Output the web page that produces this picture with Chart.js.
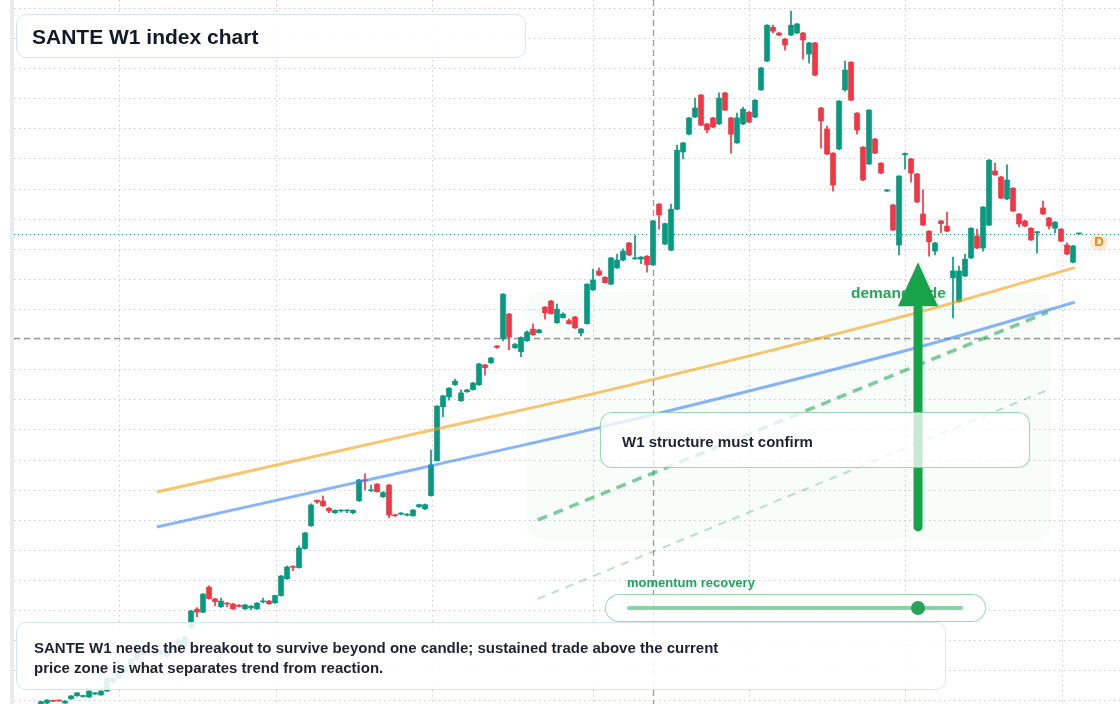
<!DOCTYPE html>
<html>
<head>
<meta charset="utf-8">
<title>SANTE W1 index chart</title>
<script src="https://cdn.jsdelivr.net/npm/chart.js@4.4.1/dist/chart.umd.min.js"></script>
<style>
  html, body { margin: 0; padding: 0; background: #fff; }
  #wrap { position: relative; width: 1120px; height: 704px; overflow: hidden;
          font-family: "Liberation Sans", Arial, Helvetica, sans-serif; }
  #chart { position: absolute; left: 0; top: 0; }
  .box { position: absolute; box-sizing: border-box; }
  .txt { position: absolute; white-space: nowrap; font-weight: bold; }
  #titleBox { left: 16px; top: 14px; width: 510px; height: 44px; border: 1.5px solid #d6e4f7;
              border-radius: 10px; background: rgba(255,255,255,0.94); }
  #titleTxt { left: 32px; top: 15.5px; font-size: 21px; line-height: 41px; color: #111a2b; }
  #noteBox { left: 16px; top: 622px; width: 930px; height: 68px; border: 1.5px solid #d6e4f7;
             border-radius: 10px; background: rgba(255,255,255,0.88); }
  #noteTxt { left: 34px; top: 638px; font-size: 15px; line-height: 20px; color: #1a2233; }
  #w1Box { left: 600px; top: 412px; width: 430px; height: 56px; border: 1.5px solid rgba(22,163,74,0.42);
           border-radius: 12px; background: rgba(255,255,255,0.76); }
  #w1Txt { left: 622px; top: 432px; font-size: 15px; line-height: 20px; color: #1a2233; }
  #momTxt { left: 627px; top: 575px; font-size: 13px; line-height: 16px; color: #22a35a; }
  #momBox { left: 605px; top: 594px; width: 381px; height: 28px; border: 1.5px solid rgba(22,163,74,0.42);
            border-radius: 14px; background: rgba(255,255,255,0.8); }
  #momTrack { left: 627px; top: 606px; width: 336px; height: 3.5px; background: rgba(22,163,74,0.5); border-radius: 2px; }
  #momDot { left: 911px; top: 601px; width: 14px; height: 14px; border-radius: 50%; background: #26a45a; }
</style>
</head>
<body>
<div id="wrap">
  <canvas id="chart" width="1120" height="704"></canvas>
  <div class="box" id="titleBox"></div>
  <div class="txt" id="titleTxt">SANTE W1 index chart</div>
  <div class="box" id="w1Box"></div>
  <div class="txt" id="w1Txt">W1 structure must confirm</div>
  <div class="txt" id="momTxt">momentum recovery</div>
  <div class="box" id="momBox"></div>
  <div class="box" id="momTrack"></div>
  <div class="box" id="momDot"></div>
  <div class="box" id="noteBox"></div>
  <div class="txt" id="noteTxt">SANTE W1 needs the breakout to survive beyond one candle; sustained trade above the current<br>price zone is what separates trend from reaction.</div>
</div>
<script>
// weekly candles, index 0..173
const opens = [
  38.8, 39.3, 40.2, 40.2, 39.3, 40.7, 41.7, 41.5, 41.3, 42.3, 42.0, 43.3, 46.3, 47.6, 49.6, 52.3, 53.9, 55.3, 57.3, 56.6,
  55.6, 54.9, 57.3, 58.3, 57.9, 64.2, 70.5, 69.5, 77.8, 73.9, 71.3, 72.5, 72.2, 71.8, 70.6, 70.9, 70.6, 72.9, 73.2, 72.6,
  75.0, 80.6, 84.7, 84.3, 90.6, 98.2, 106.6, 106.4, 104.0, 102.5, 103.1, 103.1, 102.5, 106.5, 113.4, 109.8, 112.0, 107.8, 111.7, 101.8,
  102.0, 101.7, 101.5, 104.5, 103.8, 108.2, 119.8, 137.7, 141.0, 145.0, 139.7, 142.7, 143.4, 145.0, 151.6, 152.3, 157.9, 160.3, 168.5, 157.3,
  156.0, 159.6, 163.5, 162.3, 170.8, 172.8, 165.6, 167.3, 166.3, 167.5, 162.2, 165.3, 176.5, 182.8, 180.7, 178.4, 183.8, 186.4, 192.1, 186.8,
  186.7, 187.7, 184.8, 205.0, 191.7, 189.7, 203.3, 222.3, 228.2, 233.9, 241.2, 231.6, 233.6, 231.6, 241.9, 233.6, 225.3, 231.6, 235.5, 233.9,
  242.9, 252.5, 263.7, 261.8, 259.8, 261.1, 261.8, 261.8, 254.8, 258.5, 236.9, 229.9, 221.9, 223.3, 242.9, 252.1, 235.2, 223.9, 218.3, 226.6,
  218.6, 209.3, 204.7, 191.4, 221.4, 220.0, 215.0, 201.7, 196.0, 189.4, 199.4, 197.7, 180.5, 172.6, 181.1, 187.1, 194.4, 190.4, 198.0, 216.0,
  214.0, 206.7, 210.3, 201.7, 199.4, 197.0, 195.5, 203.7, 200.4, 197.0, 196.7, 191.4, 185.7, 195.1
];
const highs = [
  40.0, 40.5, 40.3, 40.3, 40.1, 41.8, 42.8, 41.9, 43.4, 42.8, 43.4, 47.8, 48.0, 50.2, 51.2, 54.1, 56.2, 57.1, 57.6, 56.9,
  57.1, 57.9, 58.9, 60.6, 61.5, 70.1, 71.0, 75.7, 78.2, 74.1, 74.2, 72.7, 72.4, 72.0, 72.1, 71.7, 72.7, 74.2, 73.4, 75.2,
  81.7, 84.8, 84.9, 91.5, 96.0, 105.5, 106.8, 108.0, 104.2, 103.5, 103.5, 103.5, 103.5, 113.6, 115.4, 111.7, 112.2, 109.5, 111.9, 102.0,
  102.6, 102.2, 103.6, 105.4, 105.4, 123.3, 138.1, 141.5, 144.1, 146.9, 143.3, 143.5, 145.8, 152.1, 151.8, 154.1, 158.0, 175.3, 168.7, 158.8,
  160.9, 162.9, 165.2, 163.4, 171.0, 173.0, 171.8, 168.9, 166.9, 167.7, 163.7, 178.6, 183.4, 183.8, 180.9, 187.3, 188.4, 190.1, 192.3, 194.5,
  187.6, 187.9, 199.6, 205.2, 198.7, 205.0, 224.6, 225.5, 233.8, 240.2, 241.4, 231.8, 233.8, 241.9, 242.1, 233.8, 235.2, 237.2, 235.7, 239.7,
  250.4, 264.6, 264.4, 262.1, 260.0, 269.1, 265.0, 262.0, 258.7, 258.7, 237.1, 230.9, 222.1, 239.4, 252.5, 252.3, 235.4, 224.1, 236.4, 226.8,
  218.8, 209.8, 204.9, 214.5, 222.0, 220.2, 215.2, 209.7, 196.2, 192.3, 199.6, 202.3, 187.4, 184.4, 188.4, 197.2, 196.7, 204.2, 219.8, 218.6,
  214.2, 218.0, 210.5, 201.9, 199.6, 197.2, 195.9, 206.0, 200.6, 199.2, 196.9, 192.1, 191.3, 195.3
];
const lows = [
  38.5, 39.1, 39.8, 39.9, 39.2, 40.6, 41.6, 41.3, 41.2, 42.2, 41.9, 43.2, 46.0, 47.4, 49.4, 52.1, 53.7, 55.1, 56.0, 55.6,
  55.4, 54.7, 57.0, 58.0, 57.7, 64.0, 68.0, 69.3, 73.8, 71.6, 71.1, 71.3, 70.4, 71.2, 70.4, 70.3, 70.4, 72.6, 72.1, 72.4,
  74.8, 80.4, 83.3, 84.1, 90.4, 98.0, 105.6, 104.6, 102.5, 102.3, 102.7, 102.5, 102.1, 106.3, 110.1, 109.6, 109.3, 107.6, 100.9, 101.3,
  101.8, 101.5, 101.3, 104.3, 103.5, 108.0, 119.6, 134.4, 139.9, 144.8, 139.5, 142.5, 143.2, 144.8, 148.2, 152.1, 157.1, 159.6, 156.6, 157.1,
  154.3, 159.4, 161.4, 162.1, 166.8, 168.4, 165.4, 167.1, 165.1, 163.7, 161.2, 165.1, 176.3, 181.2, 178.7, 178.2, 183.6, 186.2, 187.9, 186.6,
  185.2, 182.4, 184.6, 196.7, 191.5, 189.5, 203.1, 220.0, 228.0, 233.7, 231.0, 228.6, 230.4, 231.4, 236.0, 221.9, 225.1, 231.4, 232.0, 233.7,
  242.7, 252.3, 261.8, 260.9, 256.1, 260.9, 261.6, 253.1, 251.8, 247.6, 223.6, 221.4, 209.3, 223.1, 242.5, 239.3, 228.2, 212.8, 218.1, 221.7,
  215.1, 209.2, 196.2, 188.1, 216.6, 212.3, 205.5, 197.8, 187.7, 188.1, 195.4, 195.8, 167.2, 172.4, 180.9, 186.9, 190.2, 189.4, 197.8, 214.5,
  206.8, 206.5, 202.5, 197.4, 197.5, 192.9, 188.7, 201.5, 196.7, 195.4, 192.5, 188.2, 185.5, 195.0
];
const closes = [
  39.8, 40.3, 39.9, 40.0, 40.0, 41.7, 42.7, 41.8, 43.3, 42.7, 43.3, 47.6, 47.6, 50.0, 51.0, 53.9, 55.9, 56.9, 56.3, 55.9,
  56.9, 57.6, 58.6, 60.3, 61.2, 69.9, 69.5, 75.5, 74.0, 73.0, 73.2, 72.2, 70.6, 71.4, 71.9, 71.5, 72.5, 73.1, 72.3, 75.0,
  81.5, 84.5, 84.4, 90.8, 95.8, 105.1, 106.1, 104.8, 103.1, 103.3, 103.3, 103.3, 103.3, 113.4, 113.1, 110.1, 109.5, 109.2, 101.7, 101.5,
  102.4, 101.9, 103.4, 105.2, 105.2, 118.4, 137.9, 141.3, 143.9, 146.2, 142.3, 143.3, 145.6, 151.9, 150.7, 153.9, 157.4, 175.1, 160.8, 158.4,
  160.7, 162.5, 161.6, 163.2, 168.9, 168.6, 170.1, 168.5, 165.3, 163.9, 163.5, 178.4, 179.8, 181.4, 178.9, 187.1, 186.4, 189.4, 188.1, 187.1,
  187.4, 184.9, 199.4, 201.4, 198.5, 203.3, 222.9, 225.3, 233.6, 236.9, 231.2, 229.6, 230.6, 240.2, 236.2, 228.2, 233.6, 236.5, 232.2, 239.5,
  250.2, 264.4, 262.4, 261.1, 257.8, 264.4, 264.8, 259.5, 258.5, 247.8, 232.6, 221.6, 211.3, 239.2, 249.5, 239.5, 229.6, 213.0, 236.2, 221.9,
  215.3, 209.7, 196.4, 214.3, 221.8, 215.3, 205.7, 198.0, 192.5, 192.1, 198.5, 196.0, 182.8, 182.8, 186.7, 197.0, 190.4, 204.0, 219.6, 214.7,
  207.0, 213.0, 202.7, 198.4, 197.7, 193.1, 195.7, 201.7, 197.7, 199.0, 192.7, 188.4, 191.1, 195.2
];

// grid positions (candle index units / price)
const xGridWeeks = [13, 39.2, 65.2, 92, 118, 144, 170.2];
const yGridLevels = [40, 50, 60, 70, 80, 90, 100, 110, 120, 130, 140, 150, 160, 170, 180, 190, 200, 210, 220, 230, 240, 250, 260, 270];

// guide lines
const upperBandX = [19.3, 63.2, 94.8, 146.5, 172.3];
const upperBandY = [109.4, 129.1, 143.3, 169.2, 183.9];
const lowerBandX = [19.3, 63.2, 94.8, 146.5, 172.3];
const lowerBandY = [97.8, 117.3, 131.6, 157.6, 172.4];
const supportX = [82.8, 167.8];
const supportY = [100.1, 169.1];
const outerSupportX = [82.8, 167.8];
const outerSupportY = [73.9, 143.3];

const lastPrice = 195.2;
const crosshair = { x: 102, y: 160.5 };
const zone = { x0: 81, x1: 168.3, y0: 93.8, y1: 175.8 };
const arrow = { x: 146.17, bottom: 97.8, headBase: 171.1, tip: 185.7 };
const demandLabel = { x: 135, y: 173.8, text: 'demand side' };

const UP = '#089981';
const DOWN = '#f23645';

const idx = opens.map((_, i) => i);
const wickData = idx.map(i => ({ x: i, y: [lows[i], highs[i]] }));
const bodyData = idx.map(i => ({ x: i, y: [opens[i], closes[i]] }));
const candleColors = idx.map(i => closes[i] >= opens[i] ? UP : DOWN);
const toPts = (xs, ys) => xs.map((x, i) => ({ x: x, y: ys[i] }));

const overlay = {
  id: 'overlay',
  beforeDatasetsDraw(chart) {
    const { ctx, chartArea: a, scales: { x, y } } = chart;
    ctx.save();
    // demand zone
    ctx.fillStyle = 'rgba(34,197,94,0.03)';
    ctx.beginPath();
    ctx.roundRect(x.getPixelForValue(zone.x0), y.getPixelForValue(zone.y1),
      x.getPixelForValue(zone.x1) - x.getPixelForValue(zone.x0),
      y.getPixelForValue(zone.y0) - y.getPixelForValue(zone.y1), 12);
    ctx.fill();
    // crosshair
    ctx.strokeStyle = '#9a9a9a';
    ctx.lineWidth = 1.3;
    ctx.setLineDash([6, 4]);
    const cx = Math.round(x.getPixelForValue(crosshair.x)) + 0.5;
    const cy = Math.round(y.getPixelForValue(crosshair.y)) + 0.5;
    ctx.beginPath();
    ctx.moveTo(cx, a.top); ctx.lineTo(cx, a.bottom);
    ctx.moveTo(a.left, cy); ctx.lineTo(a.right, cy);
    ctx.stroke();
    // last price line
    ctx.strokeStyle = '#0b8f76';
    ctx.lineWidth = 1;
    ctx.setLineDash([1, 3]);
    const py = Math.round(y.getPixelForValue(lastPrice)) + 0.5;
    ctx.beginPath();
    ctx.moveTo(a.left, py); ctx.lineTo(a.right, py);
    ctx.stroke();
    ctx.restore();
  },
  afterDatasetsDraw(chart) {
    const { ctx, scales: { x, y } } = chart;
    ctx.save();
    ctx.fillStyle = '#2aa55c';
    ctx.font = 'bold 15.5px "Liberation Sans", Arial, sans-serif';
    ctx.fillText(demandLabel.text, x.getPixelForValue(demandLabel.x), y.getPixelForValue(demandLabel.y));
    // arrow
    const ax = x.getPixelForValue(arrow.x);
    const yb = y.getPixelForValue(arrow.bottom);
    const yh = y.getPixelForValue(arrow.headBase);
    const yt = y.getPixelForValue(arrow.tip);
    ctx.strokeStyle = '#17a34a';
    ctx.fillStyle = '#17a34a';
    ctx.lineWidth = 9;
    ctx.lineCap = 'round';
    ctx.beginPath();
    ctx.moveTo(ax, yb); ctx.lineTo(ax, yh + 2);
    ctx.stroke();
    ctx.beginPath();
    ctx.moveTo(ax - 20, yh); ctx.lineTo(ax + 20, yh); ctx.lineTo(ax, yt);
    ctx.closePath();
    ctx.fill();
    // D badge
    const by = y.getPixelForValue(lastPrice) + 8.5;
    ctx.fillStyle = 'rgba(251,146,60,0.2)';
    ctx.beginPath();
    ctx.arc(1099, by, 9, 0, Math.PI * 2);
    ctx.fill();
    ctx.fillStyle = '#f08a00';
    ctx.font = 'bold 13px "Liberation Sans", Arial, sans-serif';
    ctx.textAlign = 'center';
    ctx.textBaseline = 'middle';
    ctx.fillText('D', 1099, by + 0.5);
    ctx.restore();
  },
  afterDraw(chart) {
    const { ctx } = chart;
    ctx.save();
    ctx.fillStyle = '#ebebeb';
    ctx.fillRect(10, 0, 4, chart.height);
    ctx.restore();
  }
};

new Chart(document.getElementById('chart'), {
  type: 'bar',
  data: {
    datasets: [
      { type: 'bar', data: wickData, backgroundColor: candleColors, barThickness: 1, grouped: false, order: 3 },
      { type: 'bar', data: bodyData, backgroundColor: candleColors, barThickness: 5, minBarLength: 1, grouped: false, order: 2 },
      { type: 'line', data: toPts(upperBandX, upperBandY), borderColor: 'rgba(245,158,11,0.6)', borderWidth: 3,
        pointRadius: 0, cubicInterpolationMode: 'monotone', order: 1 },
      { type: 'line', data: toPts(lowerBandX, lowerBandY), borderColor: 'rgba(59,130,246,0.6)', borderWidth: 3,
        pointRadius: 0, cubicInterpolationMode: 'monotone', order: 1 },
      { type: 'line', data: toPts(supportX, supportY), borderColor: 'rgba(22,163,74,0.55)', borderWidth: 3.5,
        borderDash: [10, 7], pointRadius: 0, order: 1 },
      { type: 'line', data: toPts(outerSupportX, outerSupportY), borderColor: 'rgba(22,163,74,0.3)', borderWidth: 2,
        borderDash: [8, 7], pointRadius: 0, order: 1 }
    ]
  },
  options: {
    responsive: false,
    animation: false,
    devicePixelRatio: 1,
    events: [],
    layout: { padding: { left: 14, right: 0, top: 0, bottom: 0 } },
    plugins: { legend: { display: false }, tooltip: { enabled: false } },
    scales: {
      x: {
        type: 'linear', min: -4.5, max: 179.833, offset: false,
        afterBuildTicks: axis => { axis.ticks = xGridWeeks.map(v => ({ value: v })); },
        ticks: { display: false },
        grid: { color: '#c9cdd2', drawTicks: false, offset: false },
        border: { display: false, dash: [1.5, 3.5] }
      },
      y: {
        type: 'linear', min: 39.0, max: 272.76,
        afterBuildTicks: axis => { axis.ticks = yGridLevels.map(v => ({ value: v })); },
        ticks: { display: false },
        grid: { color: '#c9cdd2', drawTicks: false },
        border: { display: false, dash: [1.5, 3.5] }
      }
    }
  },
  plugins: [overlay]
});
</script>
</body>
</html>
